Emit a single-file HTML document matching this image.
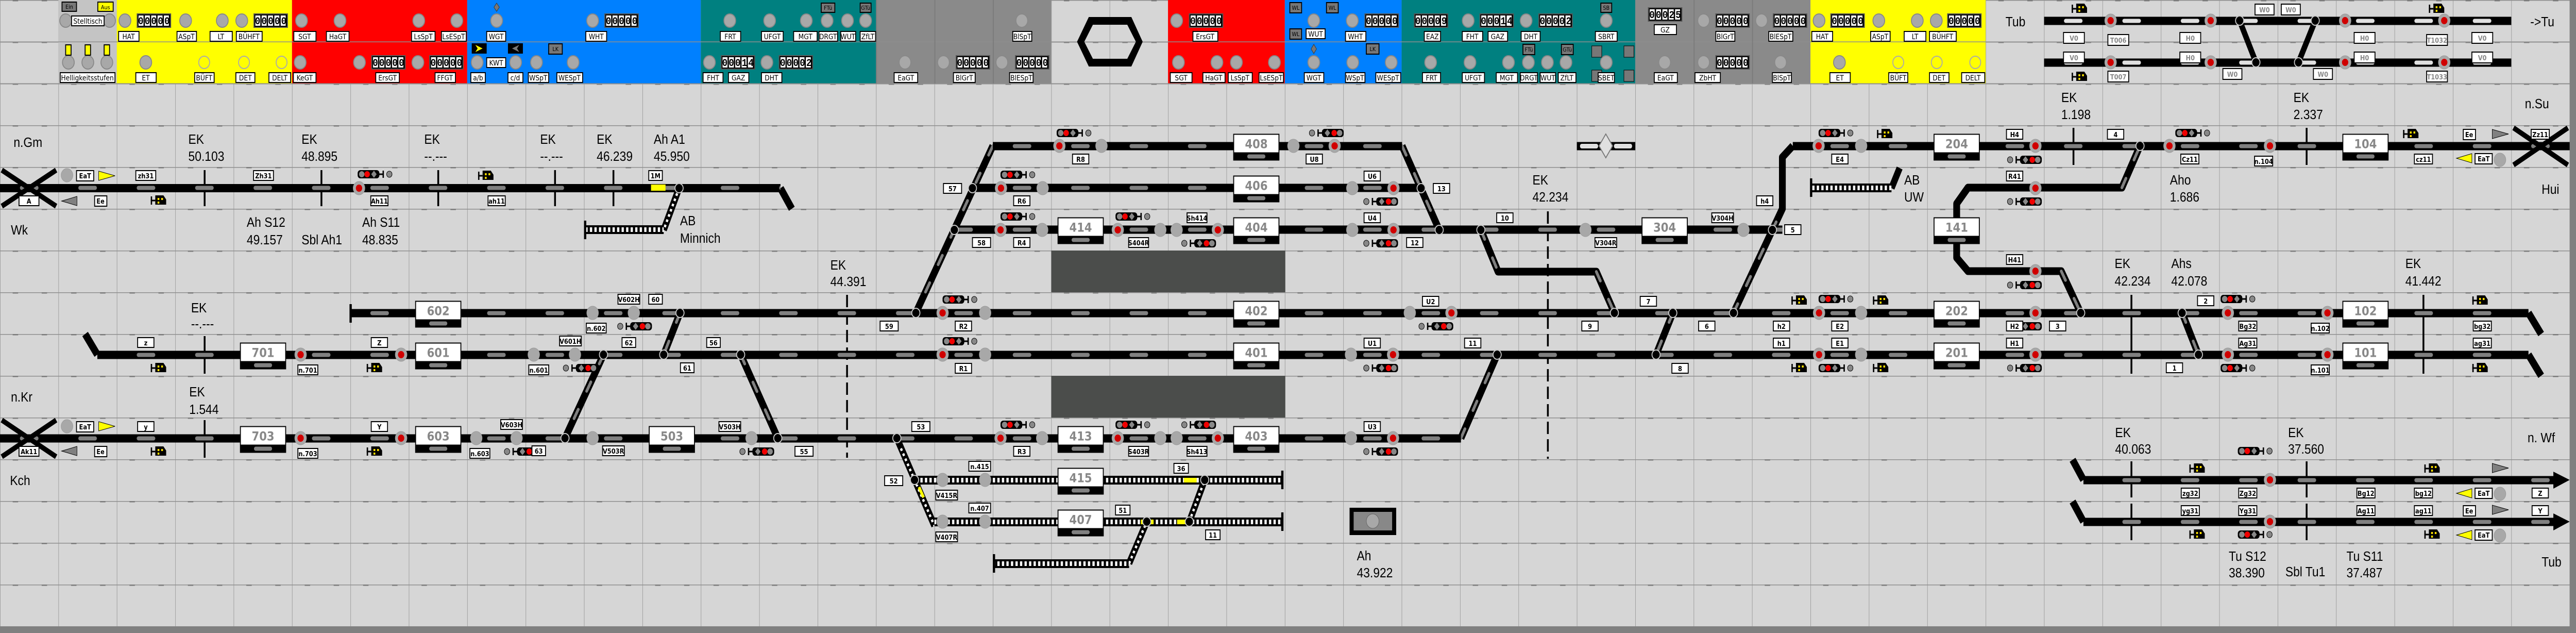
<!DOCTYPE html>
<html><head><meta charset="utf-8">
<style>
html,body{margin:0;padding:0;background:#d6d6d6;width:100%;height:100%;overflow:hidden;}
svg{display:block;width:100vw;height:100vh;}
.km{font-family:"Liberation Sans",sans-serif;font-size:26px;fill:#000;}
.lb rect{fill:#fff;stroke:#000;stroke-width:2;}
.lb text{font-family:"DejaVu Sans","Liberation Sans",sans-serif;font-size:13px;font-weight:bold;fill:#000;text-anchor:middle;}
.tl rect{fill:#fff;stroke:#000;stroke-width:2;}
.tl text{font-family:"DejaVu Sans","Liberation Sans",sans-serif;font-size:14px;fill:#000;text-anchor:middle;}
.gl text{fill:#888;}
.bt{font-family:"DejaVu Sans","Liberation Sans",sans-serif;font-size:24px;font-weight:bold;fill:#888;text-anchor:middle;}
.ct{font-family:"Liberation Mono",monospace;font-size:20px;font-weight:bold;fill:#000;}
.sb rect{fill:#777;stroke:#000;stroke-width:2;}
.sb text{font-family:"DejaVu Sans",sans-serif;font-size:11px;fill:#000;text-anchor:middle;}
</style></head><body>
<svg viewBox="0 0 5690 1228" preserveAspectRatio="none" xmlns="http://www.w3.org/2000/svg">
<defs>
<pattern id="grid" width="129" height="81" patternUnits="userSpaceOnUse">
<rect width="129" height="81" fill="#d6d6d6"/>
<rect x="0" y="0" width="1" height="81" fill="#999"/>
<rect x="0" y="0" width="129" height="1.5" fill="#8f8f8f"/>
<rect x="28" y="-0.5" width="12" height="3" fill="#7a7a7a"/>
<rect x="92" y="-0.5" width="12" height="3" fill="#7a7a7a"/>
</pattern>
<pattern id="pills" width="129" height="81" patternUnits="userSpaceOnUse">
<rect x="44" y="36.5" width="41" height="8" rx="4" fill="#808080"/>
</pattern>
<pattern id="lpills" width="129" height="81" patternUnits="userSpaceOnUse">
<rect x="44" y="36.5" width="41" height="8" rx="4" fill="#e0e0e0"/>
</pattern>
<pattern id="hatch" width="10" height="81" patternUnits="userSpaceOnUse">
<rect x="0" y="32" width="10" height="17" fill="#000"/>
<rect x="3" y="36" width="5" height="9" fill="#fff"/>
</pattern>
<g id="sr"><circle r="13" fill="#a8a8a8" stroke="#999" stroke-width="1"/><circle r="7" fill="#d00000"/></g>
<g id="sg"><circle r="13" fill="#a8a8a8" stroke="#999" stroke-width="1"/></g>
<g id="sw"><circle r="9" fill="#000" stroke="#c8c8c8" stroke-width="2"/></g>
<g id="sL"><rect x="-30" y="-8" width="48" height="16" rx="6" fill="#000"/><circle cx="-21" cy="0" r="6" fill="#888"/><circle cx="-9" cy="0" r="6" fill="#f00000"/><polygon points="6,-7 12,0 6,7 0,0" fill="#888"/><rect x="17" y="-1.5" width="9" height="3" fill="#000"/><rect x="25" y="-7" width="3" height="14" fill="#000"/><circle cx="40" cy="0" r="6" fill="#888" stroke="#000" stroke-width="1"/></g>
<g id="btn"><circle r="13" fill="#a8a8a8" stroke="#888" stroke-width="2"/></g>
<g id="hbtn"><circle r="12" fill="none" stroke="#aaa" stroke-width="2"/></g>
<g id="spk"><rect x="-22" y="-1.5" width="10" height="3" fill="#000"/><rect x="-22" y="-8" width="3" height="16" fill="#000"/><path d="M-12,-10 h18 l6,8 v10 h-24z" fill="#000"/><rect x="-7" y="-5" width="4" height="4" fill="#ffe000"/><rect x="1" y="-5" width="4" height="4" fill="#ffe000"/><rect x="-7" y="2" width="4" height="4" fill="#ffe000"/></g>
<g id="cnt"><rect x="0" y="0" width="74" height="26" fill="#000" stroke="#555" stroke-width="2"/><rect x="3" y="3" width="11" height="20" fill="#fff"/><rect x="17" y="3" width="11" height="20" fill="#fff"/><rect x="31" y="3" width="11" height="20" fill="#fff"/><rect x="45" y="3" width="11" height="20" fill="#fff"/><rect x="59" y="3" width="11" height="20" fill="#fff"/></g>
</defs>

<rect width="5690" height="1228" fill="#808080"/>
<rect width="5676" height="1215" fill="url(#grid)"/>

<rect x="129" y="0" width="129" height="162" fill="#c4c4c4"/>
<rect x="258" y="0" width="387" height="162" fill="#ffff00"/>
<rect x="645" y="0" width="387" height="162" fill="#ff0000"/>
<rect x="1032" y="0" width="516" height="162" fill="#0080ff"/>
<rect x="1548" y="0" width="387" height="162" fill="#008080"/>
<rect x="1935" y="0" width="387" height="162" fill="#8a8a8a"/>
<rect x="2580" y="0" width="258" height="162" fill="#ff0000"/>
<rect x="2838" y="0" width="258" height="162" fill="#0080ff"/>
<rect x="3096" y="0" width="516" height="162" fill="#008080"/>
<rect x="3612" y="0" width="387" height="162" fill="#8a8a8a"/>
<rect x="3999" y="0" width="387" height="162" fill="#ffff00"/>
<g fill="#8f8f8f"><rect x="0" y="80.5" width="5676" height="1.5"/><rect x="0" y="161.5" width="5676" height="1.5"/></g>
<g fill="#7a7a7a">
<rect x="1935" y="0" width="2" height="162"/><rect x="2064" y="0" width="2" height="162"/><rect x="2193" y="0" width="2" height="162"/><rect x="3741" y="0" width="2" height="162"/><rect x="3870" y="0" width="2" height="162"/>
</g>

<path d="M2379,81 L2405,33 L2499,33 L2524,81 L2499,129 L2405,129 Z M2395,81 L2414,48 L2490,48 L2509,81 L2490,114 L2414,114 Z" fill="#000" fill-rule="evenodd"/>

<g transform="translate(0,40)">
<use href="#btn" x="145"/><use href="#btn" x="242"/><use href="#btn" x="276"/><use href="#btn" x="410"/><use href="#btn" x="491"/><use href="#btn" x="534"/><use href="#btn" x="666"/><use href="#btn" x="751"/><use href="#btn" x="925"/><use href="#btn" x="1009"/><use href="#btn" x="1097"/><use href="#btn" x="1309"/><use href="#btn" x="1612"/><use href="#btn" x="1700"/><use href="#btn" x="1781"/><use href="#btn" x="1827"/><use href="#btn" x="1872"/><use href="#btn" x="1912"/><use href="#btn" x="2257"/><use href="#btn" x="2599"/><use href="#btn" x="2902"/><use href="#btn" x="2987"/><use href="#btn" x="3243"/><use href="#btn" x="3371"/><use href="#btn" x="3548"/><use href="#btn" x="3763"/><use href="#btn" x="3891"/><use href="#btn" x="4018"/><use href="#btn" x="4150"/><use href="#btn" x="4235"/><use href="#btn" x="4277"/>
</g>
<g transform="translate(0,121)">
<use href="#btn" x="151"/><use href="#btn" x="194"/><use href="#btn" x="236"/><use href="#btn" x="322"/><use href="#hbtn" x="451"/><use href="#hbtn" x="539"/><use href="#hbtn" x="622"/><use href="#btn" x="663"/><use href="#btn" x="794"/><use href="#btn" x="923"/><use href="#btn" x="1054"/><use href="#btn" x="1139"/><use href="#btn" x="1185"/><use href="#btn" x="1266"/><use href="#btn" x="1567"/><use href="#btn" x="1694"/><use href="#btn" x="1999"/><use href="#btn" x="2084"/><use href="#btn" x="2213"/><use href="#btn" x="2603"/><use href="#btn" x="2688"/><use href="#btn" x="2731"/><use href="#btn" x="2815"/><use href="#btn" x="2902"/><use href="#btn" x="2988"/><use href="#btn" x="3073"/><use href="#btn" x="3160"/><use href="#btn" x="3247"/><use href="#btn" x="3332"/><use href="#btn" x="3376"/><use href="#btn" x="3418"/><use href="#btn" x="3459"/><use href="#btn" x="3548"/><use href="#btn" x="3677"/><use href="#btn" x="3763"/><use href="#btn" x="3933"/><use href="#btn" x="4063"/><use href="#hbtn" x="4193"/><use href="#hbtn" x="4278"/><use href="#hbtn" x="4363"/>
</g>
<g fill="#ffff00" stroke="#000" stroke-width="2"><rect x="145" y="87" width="12" height="20"/><rect x="188" y="87" width="12" height="20"/><rect x="230" y="87" width="12" height="20"/></g>
<g>
<use href="#cnt" x="303" y="27"/><use href="#cnt" x="561" y="27"/><use href="#cnt" x="1336" y="27"/><use href="#cnt" x="2627" y="27"/><use href="#cnt" x="3015" y="27"/><use href="#cnt" x="3124" y="27"/><use href="#cnt" x="3269" y="27"/><use href="#cnt" x="3399" y="27"/><use href="#cnt" x="3641" y="15"/><use href="#cnt" x="3790" y="27"/><use href="#cnt" x="3917" y="27"/><use href="#cnt" x="4044" y="27"/><use href="#cnt" x="4302" y="27"/>
<use href="#cnt" x="821" y="108"/><use href="#cnt" x="949" y="108"/><use href="#cnt" x="1593" y="108"/><use href="#cnt" x="1721" y="108"/><use href="#cnt" x="2112" y="108"/><use href="#cnt" x="2243" y="108"/><use href="#cnt" x="3790" y="108"/>
</g>
<g class="ct">
<text x="305" y="47" textLength="70">00000</text><text x="563" y="47" textLength="70">00000</text><text x="1338" y="47" textLength="70">00000</text><text x="2629" y="47" textLength="70">00000</text><text x="3017" y="47" textLength="70">00000</text><text x="3126" y="47" textLength="70">00009</text><text x="3271" y="47" textLength="70">00014</text><text x="3401" y="47" textLength="70">00002</text><text x="3643" y="35" textLength="70">00025</text><text x="3792" y="47" textLength="70">00000</text><text x="3919" y="47" textLength="70">00000</text><text x="4046" y="47" textLength="70">00000</text><text x="4304" y="47" textLength="70">00000</text>
<text x="823" y="128" textLength="70">00000</text><text x="951" y="128" textLength="70">00000</text><text x="1595" y="128" textLength="70">00014</text><text x="1723" y="128" textLength="70">00002</text><text x="2114" y="128" textLength="70">00000</text><text x="2245" y="128" textLength="70">00000</text><text x="3792" y="128" textLength="70">00000</text>
</g>
<g class="sb">
<rect x="137" y="4" width="32" height="18"/><text x="153" y="17">Ein</text>
<rect x="1814" y="6" width="30" height="18"/><text x="1829" y="19">FTü</text>
<rect x="1900" y="6" width="24" height="18"/><text x="1912" y="19">GTü</text>
<rect x="2849" y="5" width="26" height="20"/><text x="2862" y="19">WL</text>
<rect x="2930" y="5" width="26" height="20"/><text x="2943" y="19">WL</text>
<rect x="2849" y="56" width="26" height="20"/><text x="2862" y="70">WL</text>
<rect x="3536" y="6" width="24" height="18"/><text x="3548" y="19">SB</text>
<rect x="1212" y="85" width="30" height="20"/><text x="1227" y="99">LK</text>
<rect x="3018" y="85" width="28" height="20"/><text x="3032" y="99">LK</text>
<rect x="3364" y="86" width="26" height="20"/><text x="3377" y="100">FTü</text>
<rect x="3449" y="86" width="26" height="20"/><text x="3462" y="100">GTü</text>
</g>
<rect x="216" y="4" width="34" height="18" fill="#ffff00" stroke="#000" stroke-width="2"/><text x="233" y="18" font-family="DejaVu Sans" font-size="11" text-anchor="middle">Aus</text>
<g fill="#777" stroke="#000" stroke-width="1"><rect x="3587" y="89" width="22" height="22"/><rect x="3587" y="136" width="22" height="22"/><rect x="3516" y="89" width="22" height="22"/><rect x="3516" y="136" width="22" height="22"/></g>
<rect x="1042" y="84" width="33" height="20" fill="#000"/><polygon points="1050,87 1066,94 1050,101 1055,94" fill="#ffff00"/>
<rect x="1122" y="84" width="33" height="20" fill="#000"/><polygon points="1147,87 1131,94 1147,101 1142,94" fill="#777"/>
<polygon points="1097,6 1103,14 1097,22 1091,14" fill="#777" stroke="#333"/>
<polygon points="2902,86 2908,95 2902,104 2896,95" fill="#777" stroke="#333"/>

<g class="tl">
<rect x="158" y="31" width="72" height="19"/><text x="194" y="46">Stelltisch</text>
<rect x="262" y="61" width="45" height="19"/><text x="284" y="76">HAT</text>
<rect x="391" y="61" width="43" height="19"/><text x="412" y="76">ASpT</text>
<rect x="464" y="61" width="49" height="19"/><text x="488" y="76">LT</text>
<rect x="522" y="61" width="57" height="19"/><text x="550" y="76">BÜHFT</text>
<rect x="649" y="61" width="49" height="19"/><text x="673" y="76">SGT</text>
<rect x="721" y="61" width="50" height="19"/><text x="746" y="76">HaGT</text>
<rect x="909" y="61" width="52" height="19"/><text x="935" y="76">LsSpT</text>
<rect x="975" y="61" width="55" height="19"/><text x="1002" y="76">LsESpT</text>
<rect x="1075" y="61" width="42" height="19"/><text x="1096" y="76">WGT</text>
<rect x="1294" y="61" width="46" height="19"/><text x="1317" y="76">WHT</text>
<rect x="1591" y="61" width="45" height="19"/><text x="1613" y="76">FRT</text>
<rect x="1682" y="61" width="48" height="19"/><text x="1706" y="76">UFGT</text>
<rect x="1753" y="61" width="52" height="19"/><text x="1779" y="76">MGT</text>
<rect x="1809" y="61" width="41" height="19"/><text x="1829" y="76" font-size="11">DRGT</text>
<rect x="1857" y="61" width="33" height="19"/><text x="1873" y="76" font-size="10">WUT</text>
<rect x="1900" y="61" width="34" height="19"/><text x="1917" y="76" font-size="11">ZfLT</text>
<rect x="2237" y="61" width="42" height="19"/><text x="2258" y="76" font-size="12">BlSpT</text>
<rect x="2635" y="61" width="55" height="19"/><text x="2662" y="76">ErsGT</text>
<rect x="2885" y="56" width="42" height="19"/><text x="2906" y="71">WUT</text>
<rect x="2972" y="61" width="45" height="19"/><text x="2994" y="76">WHT</text>
<rect x="3146" y="61" width="36" height="19"/><text x="3164" y="76">EAZ</text>
<rect x="3230" y="61" width="45" height="19"/><text x="3252" y="76">FHT</text>
<rect x="3287" y="61" width="43" height="19"/><text x="3308" y="76">GAZ</text>
<rect x="3360" y="61" width="42" height="19"/><text x="3381" y="76">DHT</text>
<rect x="3524" y="61" width="48" height="19"/><text x="3548" y="76">SBRT</text>
<rect x="3654" y="48" width="49" height="19"/><text x="3678" y="63">GZ</text>
<rect x="3790" y="61" width="42" height="19"/><text x="3811" y="76" font-size="12">BlGrT</text>
<rect x="3907" y="61" width="53" height="19"/><text x="3933" y="76" font-size="12">BlESpT</text>
<rect x="4002" y="61" width="46" height="19"/><text x="4025" y="76">HAT</text>
<rect x="4132" y="61" width="43" height="19"/><text x="4153" y="76">ASpT</text>
<rect x="4206" y="61" width="48" height="19"/><text x="4230" y="76">LT</text>
<rect x="4262" y="61" width="59" height="19"/><text x="4291" y="76">BÜHFT</text>
</g>
<g class="tl">
<rect x="133" y="141" width="121" height="19"/><text x="193" y="156" font-size="12">Helligkeitsstufen</text>
<rect x="300" y="141" width="45" height="19"/><text x="322" y="156">ET</text>
<rect x="430" y="141" width="43" height="19"/><text x="451" y="156">BÜFT</text>
<rect x="521" y="141" width="42" height="19"/><text x="542" y="156">DET</text>
<rect x="594" y="141" width="48" height="19"/><text x="618" y="156">DELT</text>
<rect x="648" y="141" width="50" height="19"/><text x="673" y="156">KeGT</text>
<rect x="830" y="141" width="52" height="19"/><text x="856" y="156">ErsGT</text>
<rect x="961" y="141" width="45" height="19"/><text x="983" y="156">FFGT</text>
<rect x="1075" y="112" width="42" height="19"/><text x="1096" y="127">KWT</text>
<rect x="1040" y="141" width="32" height="19"/><text x="1056" y="156">a/b</text>
<rect x="1122" y="141" width="33" height="19"/><text x="1138" y="156">c/d</text>
<rect x="1167" y="141" width="45" height="19"/><text x="1189" y="156">WSpT</text>
<rect x="1230" y="141" width="57" height="19"/><text x="1258" y="156">WESpT</text>
<rect x="1553" y="141" width="44" height="19"/><text x="1575" y="156">FHT</text>
<rect x="1609" y="141" width="45" height="19"/><text x="1631" y="156">GAZ</text>
<rect x="1682" y="141" width="45" height="19"/><text x="1704" y="156">DHT</text>
<rect x="1975" y="141" width="52" height="19"/><text x="2001" y="156">EaGT</text>
<rect x="2106" y="141" width="48" height="19"/><text x="2130" y="156" font-size="12">BlGrT</text>
<rect x="2230" y="141" width="52" height="19"/><text x="2256" y="156" font-size="12">BlESpT</text>
<rect x="2585" y="141" width="48" height="19"/><text x="2609" y="156">SGT</text>
<rect x="2657" y="141" width="49" height="19"/><text x="2681" y="156">HaGT</text>
<rect x="2713" y="141" width="53" height="19"/><text x="2739" y="156">LsSpT</text>
<rect x="2781" y="141" width="54" height="19"/><text x="2808" y="156" font-size="12">LsESpT</text>
<rect x="2881" y="141" width="43" height="19"/><text x="2902" y="156">WGT</text>
<rect x="2972" y="141" width="43" height="19"/><text x="2993" y="156">WSpT</text>
<rect x="3039" y="141" width="55" height="19"/><text x="3066" y="156">WESpT</text>
<rect x="3142" y="141" width="40" height="19"/><text x="3162" y="156">FRT</text>
<rect x="3230" y="141" width="49" height="19"/><text x="3254" y="156">UFGT</text>
<rect x="3305" y="141" width="47" height="19"/><text x="3328" y="156">MGT</text>
<rect x="3358" y="141" width="38" height="19"/><text x="3377" y="156" font-size="10">DRGT</text>
<rect x="3402" y="141" width="34" height="19"/><text x="3419" y="156" font-size="10">WUT</text>
<rect x="3442" y="141" width="39" height="19"/><text x="3461" y="156" font-size="11">ZfLT</text>
<rect x="3530" y="141" width="36" height="19"/><text x="3548" y="156" font-size="11">SBET</text>
<rect x="3654" y="141" width="51" height="19"/><text x="3679" y="156">EaGT</text>
<rect x="3744" y="141" width="56" height="19"/><text x="3772" y="156">ZbHT</text>
<rect x="3915" y="141" width="42" height="19"/><text x="3936" y="156" font-size="12">BlSpT</text>
<rect x="4042" y="141" width="45" height="19"/><text x="4064" y="156">ET</text>
<rect x="4172" y="141" width="42" height="19"/><text x="4193" y="156">BÜFT</text>
<rect x="4262" y="141" width="43" height="19"/><text x="4283" y="156">DET</text>
<rect x="4333" y="141" width="51" height="19"/><text x="4358" y="156">DELT</text>
</g>

<rect x="2322" y="486" width="517" height="81" fill="#4b4d4b"/>
<rect x="2322" y="729" width="517" height="81" fill="#4b4d4b"/>

<g stroke="#000" stroke-width="4">
<line x1="452" y1="330" x2="452" y2="400"/><line x1="710" y1="330" x2="710" y2="400"/><line x1="968" y1="330" x2="968" y2="400"/><line x1="1226" y1="330" x2="1226" y2="400"/><line x1="1355" y1="330" x2="1355" y2="400"/>
<line x1="452" y1="652" x2="452" y2="725"/><line x1="452" y1="815" x2="452" y2="888"/>
<line x1="4580" y1="248" x2="4580" y2="320"/><line x1="5095" y1="248" x2="5095" y2="320"/>
<line x1="4708" y1="572" x2="4708" y2="725"/><line x1="5353" y1="572" x2="5353" y2="725"/>
<line x1="4708" y1="895" x2="4708" y2="965"/><line x1="4708" y1="977" x2="4708" y2="1048"/><line x1="5095" y1="895" x2="5095" y2="965"/><line x1="5095" y1="977" x2="5095" y2="1048"/>
</g>
<g stroke="#000" stroke-width="4" stroke-dasharray="24 10">
<line x1="1871" y1="572" x2="1871" y2="888"/>
<line x1="3419" y1="410" x2="3419" y2="890"/>
</g>

<g stroke="#000" stroke-width="15" fill="none" stroke-linejoin="round">
<polyline points="1724,365 1749,405"/>
<polyline points="5585,607 5613,648"/><polyline points="5585,688 5613,729"/>
<polyline points="188,648 215,688"/>
<line x1="1502" y1="607" x2="1466" y2="688"/>
<line x1="1333" y1="688" x2="1248" y2="850"/>
<line x1="1636" y1="688" x2="1718" y2="850"/>
<line x1="3227" y1="850" x2="3307" y2="688"/>
<line x1="2193" y1="283" x2="2023" y2="607"/>
<line x1="3097" y1="283" x2="3179" y2="446"/>
<polyline points="3271,446 3309,527 3526,527 3566,607"/>
<line x1="3695" y1="607" x2="3658" y2="688"/>
<polyline points="3829,607 3937,405 3937,305 3960,283"/>
<polyline points="4727,283 4687,364 4347,364 4322,395 4322,500 4347,526 4553,526 4596,607"/>
<line x1="4820" y1="607" x2="4856" y2="688"/>
<polyline points="4578,892 4602,931"/><polyline points="4578,973 4602,1012"/>
<line x1="4947" y1="40" x2="4983" y2="121" stroke-width="12"/><line x1="5114" y1="40" x2="5077" y2="121" stroke-width="12"/>
</g>
<g stroke="#808080" stroke-width="6" fill="none" stroke-dasharray="20 40" stroke-linecap="round">
<line x1="1502" y1="607" x2="1466" y2="688"/>
<line x1="1333" y1="688" x2="1248" y2="850"/>
<line x1="1636" y1="688" x2="1718" y2="850"/>
<line x1="3227" y1="850" x2="3307" y2="688"/>
<line x1="2193" y1="283" x2="2023" y2="607"/>
<line x1="3097" y1="283" x2="3179" y2="446"/>
<line x1="3271" y1="446" x2="3309" y2="527"/><line x1="3526" y1="527" x2="3566" y2="607"/>
<line x1="3695" y1="607" x2="3658" y2="688"/>
<line x1="3829" y1="607" x2="3937" y2="405"/>
<line x1="4687" y1="364" x2="4727" y2="283"/><line x1="4553" y1="526" x2="4596" y2="607"/>
<line x1="4820" y1="607" x2="4856" y2="688"/>
</g>
<g stroke="#000" stroke-width="14" fill="none">
<line x1="1500" y1="365" x2="1466" y2="446"/>
<line x1="1981" y1="850" x2="2064" y2="1020"/>
<line x1="2494" y1="1093" x2="2533" y2="1012"/>
<line x1="2627" y1="1012" x2="2661" y2="931"/>
<line x1="4178" y1="365" x2="4196" y2="326"/>
</g>
<g stroke="#fff" stroke-width="5" fill="none" stroke-dasharray="5 6">
<line x1="1500" y1="365" x2="1466" y2="446"/>
<line x1="1990" y1="870" x2="2064" y2="1020"/>
<line x1="2494" y1="1093" x2="2533" y2="1012"/>
<line x1="2627" y1="1012" x2="2661" y2="931"/>
</g>
<line x1="2030" y1="945" x2="2040" y2="965" stroke="#ffff00" stroke-width="6"/>

<g fill="#000">
<rect x="0" y="357" width="1724" height="16"/>
<rect x="775" y="599.5" width="4810" height="16"/>
<rect x="215" y="680.5" width="5370" height="16"/>
<rect x="0" y="842.5" width="3227" height="16"/>
<rect x="2193" y="275.5" width="904" height="16"/>
<rect x="2148" y="356.5" width="991" height="16"/>
<rect x="2108" y="437.5" width="1829" height="16"/>
<rect x="3960" y="275.5" width="1716" height="16"/>
<rect x="4602" y="923.5" width="1050" height="16"/>
<rect x="4602" y="1004.5" width="1050" height="16"/>
<rect x="4515" y="32.5" width="1032" height="16"/>
<rect x="4515" y="113.5" width="1032" height="16"/>
<rect x="3483" y="275.5" width="129" height="16"/>
</g>
<g fill="url(#pills)">
<rect x="0" y="357" width="1724" height="16"/>
<rect x="775" y="599.5" width="4810" height="16"/>
<rect x="215" y="680.5" width="5370" height="16"/>
<rect x="0" y="842.5" width="3227" height="16"/>
<rect x="2193" y="275.5" width="904" height="16"/>
<rect x="2148" y="356.5" width="991" height="16"/>
<rect x="2108" y="437.5" width="1829" height="16"/>
<rect x="3960" y="275.5" width="1716" height="16"/>
<rect x="4602" y="923.5" width="1050" height="16"/>
<rect x="4602" y="1004.5" width="1050" height="16"/>
</g>
<g fill="url(#lpills)">
<rect x="4515" y="32.5" width="1032" height="16"/>
<rect x="4515" y="113.5" width="1032" height="16"/>
</g>
<rect x="3490" y="279" width="40" height="9" rx="4" fill="#e0e0e0"/><rect x="3565" y="279" width="40" height="9" rx="4" fill="#e0e0e0"/>
<polygon points="3547,260 3562,283 3547,306 3532,283" fill="#e0e0e0" stroke="#777" stroke-width="2"/>
<g fill="url(#hatch)">
<rect x="1294" y="405" width="172" height="81"/>
<rect x="2021" y="891" width="812" height="81"/>
<rect x="2064" y="972" width="769" height="81"/>
<rect x="2197" y="1053" width="297" height="81"/>
<rect x="4002" y="324" width="176" height="81"/>
</g>
<g fill="#000">
<rect x="1290" y="428" width="5" height="36"/><rect x="2830" y="913" width="5" height="36"/><rect x="2830" y="994" width="5" height="36"/><rect x="2193" y="1075" width="5" height="36"/><rect x="3998" y="346" width="5" height="36"/><rect x="772" y="590" width="5" height="36"/>
</g>
<rect x="2520" y="1008" width="28" height="9" fill="#ffff00"/><rect x="2600" y="1008" width="28" height="9" fill="#ffff00"/><rect x="2615" y="927" width="28" height="9" fill="#ffff00"/>
<rect x="1438" y="358" width="32" height="12" fill="#ffff00"/>

<g stroke="#000" stroke-width="10">
<line x1="4" y1="330" x2="124" y2="400"/><line x1="124" y1="330" x2="4" y2="400"/>
<line x1="4" y1="815" x2="124" y2="886"/><line x1="124" y1="815" x2="4" y2="886"/>
<line x1="5552" y1="248" x2="5672" y2="320"/><line x1="5672" y1="248" x2="5552" y2="320"/>
</g>
<polygon points="5640,915 5676,931 5640,948" fill="#000"/><polygon points="5640,996 5676,1012 5640,1029" fill="#000"/>
<polygon points="218,332 254,341 218,350" fill="#ffff00" stroke="#000"/>
<polygon points="170,381 136,390 170,399" fill="#808080" stroke="#000"/>
<polygon points="218,818 254,827 218,836" fill="#ffff00" stroke="#000"/>
<polygon points="170,866 136,875 170,884" fill="#808080" stroke="#000"/>
<polygon points="5505,251 5541,260 5505,269" fill="#808080" stroke="#000"/>
<polygon points="5460,298 5426,307 5460,316" fill="#ffff00" stroke="#000"/>
<polygon points="5505,899 5541,908 5505,917" fill="#808080" stroke="#000"/>
<polygon points="5460,948 5426,957 5460,966" fill="#ffff00" stroke="#000"/>
<polygon points="5505,980 5541,989 5505,998" fill="#808080" stroke="#000"/>
<polygon points="5460,1029 5426,1038 5460,1047" fill="#ffff00" stroke="#000"/>

<g>
<use href="#sw" x="1500" y="365"/><use href="#sw" x="1502" y="607"/><use href="#sw" x="1466" y="688"/><use href="#sw" x="1333" y="688"/><use href="#sw" x="1248" y="850"/><use href="#sw" x="1636" y="688"/><use href="#sw" x="1718" y="850"/>
<use href="#sw" x="2148" y="365"/><use href="#sw" x="2108" y="446"/><use href="#sw" x="2023" y="607"/><use href="#sw" x="3139" y="365"/><use href="#sw" x="3179" y="446"/><use href="#sw" x="3271" y="446"/><use href="#sw" x="3566" y="607"/><use href="#sw" x="3695" y="607"/><use href="#sw" x="3658" y="688"/><use href="#sw" x="3307" y="688"/><use href="#sw" x="3829" y="607"/><use href="#sw" x="3915" y="446"/>
<use href="#sw" x="4727" y="283"/><use href="#sw" x="4596" y="607"/><use href="#sw" x="4820" y="607"/><use href="#sw" x="4856" y="688"/>
<use href="#sw" x="1981" y="850"/><use href="#sw" x="2020" y="931"/><use href="#sw" x="2533" y="1012"/><use href="#sw" x="2627" y="1012"/><use href="#sw" x="2661" y="931"/>
<use href="#sw" x="4947" y="40"/><use href="#sw" x="5114" y="40"/><use href="#sw" x="4983" y="121"/><use href="#sw" x="5077" y="121"/>
</g>

<g>
<use href="#sr" x="793" y="365"/>
<use href="#sg" x="1309" y="607"/><use href="#sg" x="1400" y="607"/><use href="#sr" x="2082" y="607"/><use href="#sg" x="2176" y="607"/><use href="#sg" x="3114" y="607"/><use href="#sr" x="3206" y="607"/><use href="#sr" x="4018" y="607"/><use href="#sg" x="4111" y="607"/><use href="#sr" x="4496" y="607"/><use href="#sr" x="4921" y="607"/><use href="#sr" x="5141" y="607"/>
<use href="#sr" x="664" y="688"/><use href="#sr" x="886" y="688"/><use href="#sg" x="1179" y="688"/><use href="#sg" x="1270" y="688"/><use href="#sr" x="2082" y="688"/><use href="#sg" x="2176" y="688"/><use href="#sg" x="2984" y="688"/><use href="#sr" x="3077" y="688"/><use href="#sr" x="4018" y="688"/><use href="#sg" x="4111" y="688"/><use href="#sr" x="4496" y="688"/><use href="#sr" x="4921" y="688"/><use href="#sr" x="5141" y="688"/>
<use href="#sr" x="664" y="850"/><use href="#sr" x="886" y="850"/><use href="#sg" x="1052" y="850"/><use href="#sg" x="1141" y="850"/><use href="#sg" x="1309" y="850"/><use href="#sg" x="1660" y="850"/><use href="#sr" x="2210" y="850"/><use href="#sg" x="2302" y="850"/><use href="#sr" x="2469" y="850"/><use href="#sg" x="2563" y="850"/><use href="#sg" x="2599" y="850"/><use href="#sr" x="2690" y="850"/><use href="#sg" x="2984" y="850"/><use href="#sr" x="3077" y="850"/>
<use href="#sr" x="2340" y="283"/><use href="#sg" x="2433" y="283"/><use href="#sg" x="2857" y="283"/><use href="#sr" x="2948" y="283"/><use href="#sr" x="4017" y="283"/><use href="#sg" x="4111" y="283"/><use href="#sr" x="4496" y="283"/><use href="#sr" x="4792" y="283"/><use href="#sr" x="5014" y="283"/>
<use href="#sr" x="2211" y="365"/><use href="#sg" x="2303" y="365"/><use href="#sg" x="2987" y="365"/><use href="#sr" x="3078" y="365"/><use href="#sr" x="4496" y="365"/>
<use href="#sr" x="2210" y="446"/><use href="#sg" x="2302" y="446"/><use href="#sr" x="2469" y="446"/><use href="#sg" x="2563" y="446"/><use href="#sg" x="2599" y="446"/><use href="#sr" x="2690" y="446"/><use href="#sg" x="2987" y="446"/><use href="#sr" x="3078" y="446"/><use href="#sg" x="3502" y="446"/><use href="#sg" x="3851" y="446"/>
<use href="#sr" x="4496" y="526"/>
<use href="#sg" x="2082" y="931"/><use href="#sg" x="2176" y="931"/><use href="#sg" x="2082" y="1012"/><use href="#sg" x="2176" y="1012"/>
<use href="#sr" x="5014" y="931"/><use href="#sr" x="5014" y="1012"/>
<use href="#sr" x="4662" y="40"/><use href="#sr" x="4883" y="40"/><use href="#sr" x="5180" y="40"/><use href="#sr" x="5399" y="40"/>
<use href="#sr" x="4662" y="121"/><use href="#sr" x="4883" y="121"/><use href="#sr" x="5180" y="121"/><use href="#sr" x="5399" y="121"/>
<use href="#sg" x="148" y="340"/><use href="#sg" x="148" y="827"/><use href="#sg" x="5522" y="310"/><use href="#sg" x="5522" y="958"/><use href="#sg" x="5522" y="1039"/>
</g>
<g>
<use href="#sL" x="2364" y="258"/><use href="#sL" transform="translate(2938,258) scale(-1,1)"/>
<use href="#sL" x="2240" y="339"/><use href="#sL" transform="translate(3058,391) scale(-1,1)"/>
<use href="#sL" x="2240" y="420"/><use href="#sL" x="2494" y="420"/><use href="#sL" transform="translate(2656,472) scale(-1,1)"/><use href="#sL" transform="translate(3058,472) scale(-1,1)"/>
<use href="#sL" x="2112" y="581"/><use href="#sL" transform="translate(3180,633) scale(-1,1)"/>
<use href="#sL" x="2112" y="662"/><use href="#sL" transform="translate(3058,714) scale(-1,1)"/>
<use href="#sL" x="2240" y="824"/><use href="#sL" x="2494" y="824"/><use href="#sL" transform="translate(2656,824) scale(-1,1)"/><use href="#sL" transform="translate(3058,876) scale(-1,1)"/>
<use href="#sL" x="820" y="338"/>
<use href="#sL" x="4047" y="258"/><use href="#sL" transform="translate(4480,310) scale(-1,1)"/><use href="#sL" transform="translate(4480,391) scale(-1,1)"/><use href="#sL" transform="translate(4480,553) scale(-1,1)"/><use href="#sL" transform="translate(4480,633) scale(-1,1)"/><use href="#sL" transform="translate(4480,714) scale(-1,1)"/>
<use href="#sL" x="4047" y="580"/><use href="#sL" x="4047" y="714"/><use href="#sL" x="4935" y="580"/><use href="#sL" x="4935" y="714"/><use href="#sL" x="4835" y="258"/>
<use href="#sL" transform="translate(1410,633) scale(-1,1)"/><use href="#sL" transform="translate(1290,714) scale(-1,1)"/><use href="#sL" transform="translate(1160,876) scale(-1,1)"/><use href="#sL" transform="translate(1680,876) scale(-1,1)"/>
<use href="#sL" x="4973" y="875"/><use href="#sL" x="4973" y="1037"/>
</g>
<g>
<use href="#spk" x="355" y="389"/><use href="#spk" x="1078" y="341"/><use href="#spk" x="355" y="714"/><use href="#spk" x="355" y="876"/><use href="#spk" x="832" y="714"/><use href="#spk" x="832" y="876"/>
<use href="#spk" x="3979" y="583"/><use href="#spk" x="3979" y="714"/><use href="#spk" x="4159" y="583"/><use href="#spk" x="4159" y="714"/><use href="#spk" x="5483" y="583"/><use href="#spk" x="5483" y="714"/><use href="#spk" x="5330" y="260"/><use href="#spk" x="4168" y="260"/>
<use href="#spk" x="4598" y="17"/><use href="#spk" x="4598" y="149"/><use href="#spk" x="5387" y="17"/><use href="#spk" x="5387" y="149"/>
<use href="#spk" x="4858" y="909"/><use href="#spk" x="4858" y="1037"/><use href="#spk" x="5377" y="909"/><use href="#spk" x="5377" y="1037"/>
</g>
<rect x="2981" y="985" width="103" height="53" fill="#000"/><rect x="2990" y="993" width="85" height="36" fill="#888"/><circle cx="3032" cy="1011" r="14" fill="#a8a8a8" stroke="#666"/>

<g>
<g transform="translate(968,607.5)"><rect x="-51" y="-24" width="102" height="52" fill="#000"/><rect x="-49" y="-22" width="98" height="34" fill="#fff"/><text class="bt" y="4">602</text><rect x="-20" y="16" width="40" height="8" rx="4" fill="#808080"/></g>
<g transform="translate(581,688.5)"><rect x="-51" y="-24" width="102" height="52" fill="#000"/><rect x="-49" y="-22" width="98" height="34" fill="#fff"/><text class="bt" y="4">701</text><rect x="-20" y="16" width="40" height="8" rx="4" fill="#808080"/></g>
<g transform="translate(968,688.5)"><rect x="-51" y="-24" width="102" height="52" fill="#000"/><rect x="-49" y="-22" width="98" height="34" fill="#fff"/><text class="bt" y="4">601</text><rect x="-20" y="16" width="40" height="8" rx="4" fill="#808080"/></g>
<g transform="translate(581,850.5)"><rect x="-51" y="-24" width="102" height="52" fill="#000"/><rect x="-49" y="-22" width="98" height="34" fill="#fff"/><text class="bt" y="4">703</text><rect x="-20" y="16" width="40" height="8" rx="4" fill="#808080"/></g>
<g transform="translate(968,850.5)"><rect x="-51" y="-24" width="102" height="52" fill="#000"/><rect x="-49" y="-22" width="98" height="34" fill="#fff"/><text class="bt" y="4">603</text><rect x="-20" y="16" width="40" height="8" rx="4" fill="#808080"/></g>
<g transform="translate(1484,850.5)"><rect x="-51" y="-24" width="102" height="52" fill="#000"/><rect x="-49" y="-22" width="98" height="34" fill="#fff"/><text class="bt" y="4">503</text><rect x="-20" y="16" width="40" height="8" rx="4" fill="#808080"/></g>
<g transform="translate(2387,445.5)"><rect x="-51" y="-24" width="102" height="52" fill="#000"/><rect x="-49" y="-22" width="98" height="34" fill="#fff"/><text class="bt" y="4">414</text><rect x="-20" y="16" width="40" height="8" rx="4" fill="#808080"/></g>
<g transform="translate(2775,283.5)"><rect x="-51" y="-24" width="102" height="52" fill="#000"/><rect x="-49" y="-22" width="98" height="34" fill="#fff"/><text class="bt" y="4">408</text><rect x="-20" y="16" width="40" height="8" rx="4" fill="#808080"/></g>
<g transform="translate(2775,364.5)"><rect x="-51" y="-24" width="102" height="52" fill="#000"/><rect x="-49" y="-22" width="98" height="34" fill="#fff"/><text class="bt" y="4">406</text><rect x="-20" y="16" width="40" height="8" rx="4" fill="#808080"/></g>
<g transform="translate(2775,445.5)"><rect x="-51" y="-24" width="102" height="52" fill="#000"/><rect x="-49" y="-22" width="98" height="34" fill="#fff"/><text class="bt" y="4">404</text><rect x="-20" y="16" width="40" height="8" rx="4" fill="#808080"/></g>
<g transform="translate(2775,607.5)"><rect x="-51" y="-24" width="102" height="52" fill="#000"/><rect x="-49" y="-22" width="98" height="34" fill="#fff"/><text class="bt" y="4">402</text><rect x="-20" y="16" width="40" height="8" rx="4" fill="#808080"/></g>
<g transform="translate(2775,688.5)"><rect x="-51" y="-24" width="102" height="52" fill="#000"/><rect x="-49" y="-22" width="98" height="34" fill="#fff"/><text class="bt" y="4">401</text><rect x="-20" y="16" width="40" height="8" rx="4" fill="#808080"/></g>
<g transform="translate(2775,850.5)"><rect x="-51" y="-24" width="102" height="52" fill="#000"/><rect x="-49" y="-22" width="98" height="34" fill="#fff"/><text class="bt" y="4">403</text><rect x="-20" y="16" width="40" height="8" rx="4" fill="#808080"/></g>
<g transform="translate(2387,850.5)"><rect x="-51" y="-24" width="102" height="52" fill="#000"/><rect x="-49" y="-22" width="98" height="34" fill="#fff"/><text class="bt" y="4">413</text><rect x="-20" y="16" width="40" height="8" rx="4" fill="#808080"/></g>
<g transform="translate(2387,931.5)"><rect x="-51" y="-24" width="102" height="52" fill="#000"/><rect x="-49" y="-22" width="98" height="34" fill="#fff"/><text class="bt" y="4">415</text><rect x="-20" y="16" width="40" height="8" rx="4" fill="#808080"/></g>
<g transform="translate(2387,1012.5)"><rect x="-51" y="-24" width="102" height="52" fill="#000"/><rect x="-49" y="-22" width="98" height="34" fill="#fff"/><text class="bt" y="4">407</text><rect x="-20" y="16" width="40" height="8" rx="4" fill="#808080"/></g>
<g transform="translate(3677,445.5)"><rect x="-51" y="-24" width="102" height="52" fill="#000"/><rect x="-49" y="-22" width="98" height="34" fill="#fff"/><text class="bt" y="4">304</text><rect x="-20" y="16" width="40" height="8" rx="4" fill="#808080"/></g>
<g transform="translate(4322,283.5)"><rect x="-51" y="-24" width="102" height="52" fill="#000"/><rect x="-49" y="-22" width="98" height="34" fill="#fff"/><text class="bt" y="4">204</text><rect x="-20" y="16" width="40" height="8" rx="4" fill="#808080"/></g>
<g transform="translate(4322,445.5)"><rect x="-51" y="-24" width="102" height="52" fill="#000"/><rect x="-49" y="-22" width="98" height="34" fill="#fff"/><text class="bt" y="4">141</text><rect x="-20" y="16" width="40" height="8" rx="4" fill="#808080"/></g>
<g transform="translate(4322,607.5)"><rect x="-51" y="-24" width="102" height="52" fill="#000"/><rect x="-49" y="-22" width="98" height="34" fill="#fff"/><text class="bt" y="4">202</text><rect x="-20" y="16" width="40" height="8" rx="4" fill="#808080"/></g>
<g transform="translate(4322,688.5)"><rect x="-51" y="-24" width="102" height="52" fill="#000"/><rect x="-49" y="-22" width="98" height="34" fill="#fff"/><text class="bt" y="4">201</text><rect x="-20" y="16" width="40" height="8" rx="4" fill="#808080"/></g>
<g transform="translate(5225,283.5)"><rect x="-51" y="-24" width="102" height="52" fill="#000"/><rect x="-49" y="-22" width="98" height="34" fill="#fff"/><text class="bt" y="4">104</text><rect x="-20" y="16" width="40" height="8" rx="4" fill="#808080"/></g>
<g transform="translate(5225,607.5)"><rect x="-51" y="-24" width="102" height="52" fill="#000"/><rect x="-49" y="-22" width="98" height="34" fill="#fff"/><text class="bt" y="4">102</text><rect x="-20" y="16" width="40" height="8" rx="4" fill="#808080"/></g>
<g transform="translate(5225,688.5)"><rect x="-51" y="-24" width="102" height="52" fill="#000"/><rect x="-49" y="-22" width="98" height="34" fill="#fff"/><text class="bt" y="4">101</text><rect x="-20" y="16" width="40" height="8" rx="4" fill="#808080"/></g>
</g>

<g class="lb">
<rect x="300" y="331" width="44" height="19"/><text x="322" y="346">zh31</text>
<rect x="560" y="331" width="44" height="19"/><text x="582" y="346">Zh31</text>
<rect x="819" y="380" width="38" height="19"/><text x="838" y="395">Ah11</text>
<rect x="1078" y="380" width="38" height="19"/><text x="1097" y="395">ah11</text>
<rect x="1433" y="331" width="30" height="19"/><text x="1448" y="346">1M</text>
<rect x="42" y="380" width="44" height="19"/><text x="64" y="395">A</text>
<rect x="169" y="331" width="38" height="20"/><text x="188" y="346">EaT</text>
<rect x="209" y="380" width="27" height="20"/><text x="222" y="395">Ee</text>
<rect x="1365" y="571" width="48" height="19"/><text x="1389" y="586">V602H</text>
<rect x="1433" y="571" width="30" height="19"/><text x="1448" y="586">60</text>
<rect x="1295" y="627" width="44" height="19"/><text x="1317" y="642">n.602</text>
<rect x="304" y="655" width="36" height="19"/><text x="322" y="670">z</text>
<rect x="820" y="655" width="36" height="19"/><text x="838" y="670">Z</text>
<rect x="1236" y="652" width="48" height="19"/><text x="1260" y="667">V601H</text>
<rect x="1374" y="655" width="30" height="19"/><text x="1389" y="670">62</text>
<rect x="1561" y="655" width="30" height="19"/><text x="1576" y="670">56</text>
<rect x="658" y="708" width="44" height="19"/><text x="680" y="723">n.701</text>
<rect x="1168" y="708" width="44" height="19"/><text x="1190" y="723">n.601</text>
<rect x="1503" y="704" width="30" height="19"/><text x="1518" y="719">61</text>
<rect x="304" y="818" width="36" height="19"/><text x="322" y="833">y</text>
<rect x="820" y="818" width="36" height="19"/><text x="838" y="833">Y</text>
<rect x="1106" y="814" width="48" height="19"/><text x="1130" y="829">V603H</text>
<rect x="1588" y="818" width="48" height="19"/><text x="1612" y="833">V503H</text>
<rect x="658" y="870" width="44" height="19"/><text x="680" y="885">n.703</text>
<rect x="1038" y="870" width="44" height="19"/><text x="1060" y="885">n.603</text>
<rect x="1175" y="865" width="30" height="19"/><text x="1190" y="880">63</text>
<rect x="1331" y="865" width="48" height="19"/><text x="1355" y="880">V503R</text>
<rect x="1756" y="866" width="40" height="19"/><text x="1776" y="881">55</text>
<rect x="42" y="866" width="44" height="19"/><text x="64" y="881">Ak11</text>
<rect x="169" y="818" width="38" height="20"/><text x="188" y="833">EaT</text>
<rect x="209" y="866" width="27" height="20"/><text x="222" y="881">Ee</text>
<rect x="2084" y="356" width="40" height="19"/><text x="2104" y="371">57</text>
<rect x="2369" y="299" width="36" height="19"/><text x="2387" y="314">R8</text>
<rect x="2885" y="299" width="36" height="19"/><text x="2903" y="314">U8</text>
<rect x="2239" y="380" width="36" height="19"/><text x="2257" y="395">R6</text>
<rect x="3013" y="332" width="36" height="19"/><text x="3031" y="347">U6</text>
<rect x="3166" y="356" width="36" height="19"/><text x="3184" y="371">13</text>
<rect x="2148" y="461" width="40" height="19"/><text x="2168" y="476">58</text>
<rect x="2239" y="461" width="36" height="19"/><text x="2257" y="476">R4</text>
<rect x="2493" y="461" width="44" height="19"/><text x="2515" y="476">S404R</text>
<rect x="2622" y="413" width="44" height="19"/><text x="2644" y="428">Sh414</text>
<rect x="3013" y="413" width="36" height="19"/><text x="3031" y="428">U4</text>
<rect x="3107" y="461" width="36" height="19"/><text x="3125" y="476">12</text>
<rect x="3306" y="413" width="36" height="19"/><text x="3324" y="428">10</text>
<rect x="3523" y="461" width="48" height="19"/><text x="3547" y="476">V304R</text>
<rect x="3781" y="413" width="48" height="19"/><text x="3805" y="428">V304H</text>
<rect x="3942" y="436" width="36" height="19"/><text x="3960" y="451">5</text>
<rect x="3880" y="380" width="36" height="19"/><text x="3898" y="395">h4</text>
<rect x="1944" y="623" width="40" height="19"/><text x="1964" y="638">59</text>
<rect x="2110" y="623" width="36" height="19"/><text x="2128" y="638">R2</text>
<rect x="3142" y="575" width="36" height="19"/><text x="3160" y="590">U2</text>
<rect x="3623" y="575" width="36" height="19"/><text x="3641" y="590">7</text>
<rect x="3494" y="623" width="36" height="19"/><text x="3512" y="638">9</text>
<rect x="3752" y="623" width="36" height="19"/><text x="3770" y="638">6</text>
<rect x="3013" y="656" width="36" height="19"/><text x="3031" y="671">U1</text>
<rect x="3235" y="656" width="36" height="19"/><text x="3253" y="671">11</text>
<rect x="2110" y="705" width="36" height="19"/><text x="2128" y="720">R1</text>
<rect x="3693" y="705" width="36" height="19"/><text x="3711" y="720">8</text>
<rect x="2014" y="818" width="40" height="19"/><text x="2034" y="833">53</text>
<rect x="2239" y="866" width="36" height="19"/><text x="2257" y="881">R3</text>
<rect x="2493" y="866" width="44" height="19"/><text x="2515" y="881">S403R</text>
<rect x="2622" y="866" width="44" height="19"/><text x="2644" y="881">Sh413</text>
<rect x="3013" y="818" width="36" height="19"/><text x="3031" y="833">U3</text>
<rect x="2140" y="895" width="48" height="19"/><text x="2164" y="910">n.415</text>
<rect x="1954" y="923" width="40" height="19"/><text x="1974" y="938">52</text>
<rect x="2067" y="951" width="48" height="19"/><text x="2091" y="966">V415R</text>
<rect x="2593" y="899" width="32" height="19"/><text x="2609" y="914">36</text>
<rect x="2140" y="976" width="48" height="19"/><text x="2164" y="991">n.407</text>
<rect x="2464" y="980" width="32" height="19"/><text x="2480" y="995">51</text>
<rect x="2067" y="1032" width="48" height="19"/><text x="2091" y="1047">V407R</text>
<rect x="2663" y="1028" width="32" height="19"/><text x="2679" y="1043">11</text>
<rect x="4432" y="251" width="36" height="19"/><text x="4450" y="266">H4</text>
<rect x="4655" y="251" width="36" height="19"/><text x="4673" y="266">4</text>
<rect x="4046" y="299" width="36" height="19"/><text x="4064" y="314">E4</text>
<rect x="4817" y="299" width="40" height="19"/><text x="4837" y="314">Cz11</text>
<rect x="4980" y="303" width="40" height="19"/><text x="5000" y="318">n.104</text>
<rect x="5591" y="251" width="40" height="19"/><text x="5611" y="266">Zz11</text>
<rect x="5333" y="299" width="40" height="19"/><text x="5353" y="314">cz11</text>
<rect x="5467" y="298" width="38" height="20"/><text x="5486" y="313">EaT</text>
<rect x="5441" y="251" width="27" height="20"/><text x="5454" y="266">Ee</text>
<rect x="4432" y="332" width="36" height="19"/><text x="4450" y="347">R41</text>
<rect x="4432" y="494" width="36" height="19"/><text x="4450" y="509">H41</text>
<rect x="4854" y="574" width="36" height="19"/><text x="4872" y="589">2</text>
<rect x="3917" y="623" width="36" height="19"/><text x="3935" y="638">h2</text>
<rect x="4046" y="623" width="36" height="19"/><text x="4064" y="638">E2</text>
<rect x="4432" y="623" width="36" height="19"/><text x="4450" y="638">H2</text>
<rect x="4527" y="623" width="36" height="19"/><text x="4545" y="638">3</text>
<rect x="4945" y="623" width="40" height="19"/><text x="4965" y="638">Bg32</text>
<rect x="5105" y="627" width="40" height="19"/><text x="5125" y="642">n.102</text>
<rect x="5463" y="623" width="40" height="19"/><text x="5483" y="638">bg32</text>
<rect x="3917" y="656" width="36" height="19"/><text x="3935" y="671">h1</text>
<rect x="4046" y="656" width="36" height="19"/><text x="4064" y="671">E1</text>
<rect x="4432" y="656" width="36" height="19"/><text x="4450" y="671">H1</text>
<rect x="4945" y="656" width="40" height="19"/><text x="4965" y="671">Ag31</text>
<rect x="5463" y="656" width="40" height="19"/><text x="5483" y="671">ag31</text>
<rect x="4785" y="704" width="36" height="19"/><text x="4803" y="719">1</text>
<rect x="5105" y="708" width="40" height="19"/><text x="5125" y="723">n.101</text>
<rect x="4818" y="947" width="40" height="19"/><text x="4838" y="962">zg32</text>
<rect x="4945" y="947" width="40" height="19"/><text x="4965" y="962">Zg32</text>
<rect x="5206" y="947" width="40" height="19"/><text x="5226" y="962">Bg12</text>
<rect x="5333" y="947" width="40" height="19"/><text x="5353" y="962">bg12</text>
<rect x="5593" y="947" width="36" height="19"/><text x="5611" y="962">Z</text>
<rect x="4818" y="981" width="40" height="19"/><text x="4838" y="996">yg31</text>
<rect x="4945" y="981" width="40" height="19"/><text x="4965" y="996">Yg31</text>
<rect x="5206" y="981" width="40" height="19"/><text x="5226" y="996">Ag11</text>
<rect x="5333" y="981" width="40" height="19"/><text x="5353" y="996">ag11</text>
<rect x="5593" y="981" width="36" height="19"/><text x="5611" y="996">Y</text>
<rect x="5467" y="947" width="38" height="20"/><text x="5486" y="962">EaT</text>
<rect x="5441" y="981" width="27" height="20"/><text x="5454" y="996">Ee</text>
<rect x="5467" y="1028" width="38" height="20"/><text x="5486" y="1043">EaT</text>
</g>
<g class="lb gl">
<rect x="4558" y="63" width="46" height="21"/><text x="4581" y="79">V0</text>
<rect x="4656" y="67" width="46" height="21"/><text x="4679" y="83">T006</text>
<rect x="4815" y="63" width="46" height="21"/><text x="4838" y="79">H0</text>
<rect x="5200" y="63" width="46" height="21"/><text x="5223" y="79">H0</text>
<rect x="5360" y="67" width="46" height="21"/><text x="5383" y="83">T1032</text>
<rect x="5460" y="63" width="46" height="21"/><text x="5483" y="79">V0</text>
<rect x="4558" y="101" width="46" height="21"/><text x="4581" y="117">V0</text>
<rect x="4815" y="101" width="46" height="21"/><text x="4838" y="117">H0</text>
<rect x="5200" y="101" width="46" height="21"/><text x="5223" y="117">H0</text>
<rect x="5460" y="101" width="46" height="21"/><text x="5483" y="117">V0</text>
<rect x="4656" y="138" width="46" height="21"/><text x="4679" y="154">T007</text>
<rect x="4910" y="133" width="42" height="21"/><text x="4931" y="149">W0</text>
<rect x="5110" y="133" width="42" height="21"/><text x="5131" y="149">W0</text>
<rect x="5360" y="138" width="46" height="21"/><text x="5383" y="154">T1033</text>
<rect x="4981" y="8" width="42" height="21"/><text x="5002" y="24">W0</text>
<rect x="5039" y="8" width="42" height="21"/><text x="5060" y="24">W0</text>
</g>

<g class="km">
<text x="30" y="285">n.Gm</text>
<text x="416" y="279">EK</text><text x="416" y="312">50.103</text>
<text x="666" y="279">EK</text><text x="666" y="312">48.895</text>
<text x="937" y="279">EK</text><text x="937" y="312">--.---</text>
<text x="1193" y="279">EK</text><text x="1193" y="312">--.---</text>
<text x="1318" y="279">EK</text><text x="1318" y="312">46.239</text>
<text x="1444" y="279">Ah A1</text><text x="1444" y="312">45.950</text>
<text x="24" y="455">Wk</text>
<text x="545" y="440">Ah S12</text><text x="545" y="474">49.157</text>
<text x="666" y="474">Sbl Ah1</text>
<text x="800" y="440">Ah S11</text><text x="800" y="474">48.835</text>
<text x="1502" y="437">AB</text><text x="1502" y="471">Minnich</text>
<text x="1834" y="523">EK</text><text x="1834" y="555">44.391</text>
<text x="422" y="606">EK</text><text x="422" y="637">--.---</text>
<text x="24" y="779">n.Kr</text>
<text x="418" y="769">EK</text><text x="418" y="803">1.544</text>
<text x="22" y="941">Kch</text>
<text x="2997" y="1087">Ah</text><text x="2997" y="1120">43.922</text>
<text x="3385" y="358">EK</text><text x="3385" y="391">42.234</text>
<text x="4430" y="51">Tub</text>
<text x="5589" y="51">-&gt;Tu</text>
<text x="4553" y="198">EK</text><text x="4553" y="231">1.198</text>
<text x="5066" y="198">EK</text><text x="5066" y="231">2.337</text>
<text x="5577" y="210">n.Su</text>
<text x="4206" y="358">AB</text><text x="4206" y="391">UW</text>
<text x="4793" y="358">Aho</text><text x="4793" y="391">1.686</text>
<text x="5614" y="376">Hui</text>
<text x="4671" y="520">EK</text><text x="4671" y="554">42.234</text>
<text x="4796" y="520">Ahs</text><text x="4796" y="554">42.078</text>
<text x="5313" y="520">EK</text><text x="5313" y="554">41.442</text>
<text x="4672" y="848">EK</text><text x="4672" y="880">40.063</text>
<text x="5054" y="848">EK</text><text x="5054" y="880">37.560</text>
<text x="5583" y="858">n. Wf</text>
<text x="4923" y="1088">Tu S12</text><text x="4923" y="1120">38.390</text>
<text x="5048" y="1118">Sbl Tu1</text>
<text x="5183" y="1088">Tu S11</text><text x="5183" y="1120">37.487</text>
<text x="5614" y="1099">Tub</text>
</g>
</svg>
</body></html>
